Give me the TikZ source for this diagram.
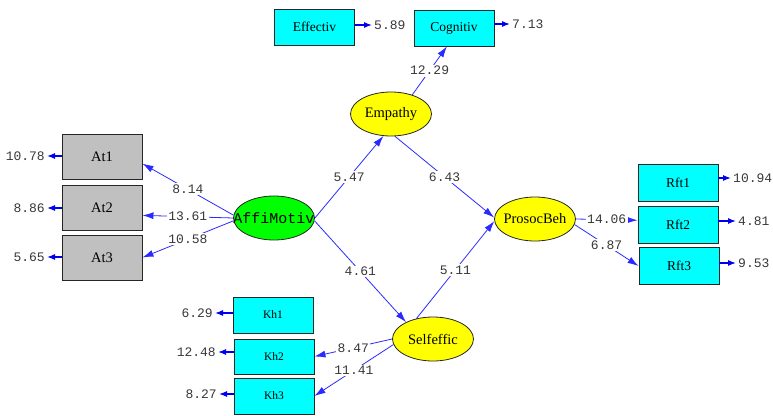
\documentclass[tikz,border=0pt]{standalone}
\usepackage{fontspec}
\setmainfont{Liberation Serif}
\setmonofont{Liberation Mono}
\usepackage{xcolor}
\usetikzlibrary{arrows.meta,shapes.geometric}

\definecolor{boxcyan}{HTML}{00FFFF}
\definecolor{boxgray}{HTML}{C0C0C0}
\definecolor{latyellow}{HTML}{FFFF00}
\definecolor{affigreen}{HTML}{00FF00}
\definecolor{pathblue}{HTML}{2A2AFF}
\definecolor{errblue}{HTML}{0000F0}
\definecolor{numgray}{HTML}{383838}

\newcommand\numfont{\ttfamily\fontsize{13}{15}\selectfont}
\newcommand\latfont{\fontsize{14.5}{16}\selectfont}
\newcommand\latmono{\ttfamily\fontsize{15}{17}\selectfont}
\newcommand\lvtext[1]{\makebox[0pt]{#1}}

\begin{document}
\begin{tikzpicture}[x=1pt,y=-1pt,
	obs/.style={draw=black!85,line width=0.9pt,fill=#1,minimum width=80pt,minimum height=36pt,inner sep=0pt,font=\fontsize{13.5}{15}\selectfont},
	lat/.style={ellipse,draw=black!85,line width=0.8pt,fill=#1,minimum width=81pt,minimum height=44pt,inner sep=0pt,font=\latfont},
	link/.style={draw=pathblue,line width=0.8pt,-{Latex[length=11pt,width=7pt]}},
	errarr/.style={draw=errblue,line width=1.2pt,-{Latex[length=8pt,width=6pt]}},
	coef/.style={fill=white,inner sep=1.5pt,text=numgray,font=\numfont},
	errval/.style={inner sep=2pt,text=numgray,font=\numfont}]
	\useasboundingbox (0,0) rectangle (773,415);
% latent variables
	\node[lat=affigreen,font=\latmono] (Affi) at (274,218) {\lvtext{AffiMotiv}};
	\node[lat=latyellow] (Emp) at (391,114) {\lvtext{Empathy}};
	\node[lat=latyellow] (Pro) at (535,219) {\lvtext{ProsocBeh}};
	\node[lat=latyellow] (Self) at (433,339) {\lvtext{Selfeffic}};
% indicators of Empathy
	\node[obs=boxcyan] (Eff) at (314.5,27) {Effectiv};
	\node[obs=boxcyan] (Cog) at (454,28) {Cognitiv};
% indicators of AffiMotiv
	\node[obs=boxgray,minimum height=45pt,font=\fontsize{14.5}{16}\selectfont] (At1) at (102,156.5) {At1};
	\node[obs=boxgray,minimum height=45pt,font=\fontsize{14.5}{16}\selectfont] (At2) at (102,207.5) {At2};
	\node[obs=boxgray,minimum height=45pt,font=\fontsize{14.5}{16}\selectfont] (At3) at (102,257.5) {At3};
% indicators of ProsocBeh
	\node[obs=boxcyan,minimum height=37pt] (Rft1) at (678,182.5) {Rft1};
	\node[obs=boxcyan,minimum height=37pt] (Rft2) at (678,224.5) {Rft2};
	\node[obs=boxcyan,minimum height=37pt] (Rft3) at (679,266) {Rft3};
% indicators of Selfeffic
	\node[obs=boxcyan,font=\fontsize{11.5}{13}\selectfont] (Kh1) at (273,315) {Kh1};
	\node[obs=boxcyan,minimum height=35pt,font=\fontsize{11.5}{13}\selectfont] (Kh2) at (274,356.5) {Kh2};
	\node[obs=boxcyan,font=\fontsize{11.5}{13}\selectfont] (Kh3) at (274,396) {Kh3};

% structural paths
	\draw[link] (Affi.east) -- node[coef]{5.47} (Emp.251);
	\draw[link] (Affi.-4) -- node[coef]{4.61} (Self.148);
	\draw[link] (Emp.280) -- node[coef]{6.43} (Pro.178);
	\draw[link] (Self.129) -- node[coef]{5.11} (Pro.183);
% loadings
	\draw[link] (Emp.42) -- node[coef]{12.29} (Cog.249);
	\draw[link] (Affi.176) -- node[coef]{8.14} (At1.-10);
	\draw[link] (Affi.180) -- node[coef]{13.61} (At2.-11);
	\draw[link] (Affi.184) -- node[coef]{10.58} (At3.east);
	\draw[link] (Pro.east) -- node[coef]{14.06} (Rft2.174);
	\draw[link] (Pro.-8) -- node[coef]{6.87} (Rft3.west);
	\draw[link] (Self.west) -- node[coef]{8.47} (Kh2.east);
	\draw[link] (Self.188) -- node[coef]{11.41} (Kh3.east);

% error variances, top
	\node[errval,anchor=west] (eEff) at (372,25) {5.89};
	\draw[errarr] (Eff.east |- eEff.west) -- (eEff.west);
	\node[errval,anchor=west] (eCog) at (510,24) {7.13};
	\draw[errarr] (Cog.east |- eCog.west) -- (eCog.west);
% error variances, left
	\node[errval,anchor=east] (eAt1) at (47,156) {10.78};
	\draw[errarr] (At1.west |- eAt1.east) -- (eAt1.east);
	\node[errval,anchor=east] (eAt2) at (47,208) {8.86};
	\draw[errarr] (At2.west |- eAt2.east) -- (eAt2.east);
	\node[errval,anchor=east] (eAt3) at (47,257) {5.65};
	\draw[errarr] (At3.west |- eAt3.east) -- (eAt3.east);
% error variances, right
	\node[errval,anchor=west] (eRft1) at (731,178) {10.94};
	\draw[errarr] (Rft1.east |- eRft1.west) -- (eRft1.west);
	\node[errval,anchor=west] (eRft2) at (736,221) {4.81};
	\draw[errarr] (Rft2.east |- eRft2.west) -- (eRft2.west);
	\node[errval,anchor=west] (eRft3) at (736,263) {9.53};
	\draw[errarr] (Rft3.east |- eRft3.west) -- (eRft3.west);
% error variances, bottom
	\node[errval,anchor=east] (eKh1) at (215,313) {6.29};
	\draw[errarr] (Kh1.west |- eKh1.east) -- (eKh1.east);
	\node[errval,anchor=east] (eKh2) at (218,352) {12.48};
	\draw[errarr] (Kh2.west |- eKh2.east) -- (eKh2.east);
	\node[errval,anchor=east] (eKh3) at (219,394) {8.27};
	\draw[errarr] (Kh3.west |- eKh3.east) -- (eKh3.east);
\end{tikzpicture}
\end{document}
